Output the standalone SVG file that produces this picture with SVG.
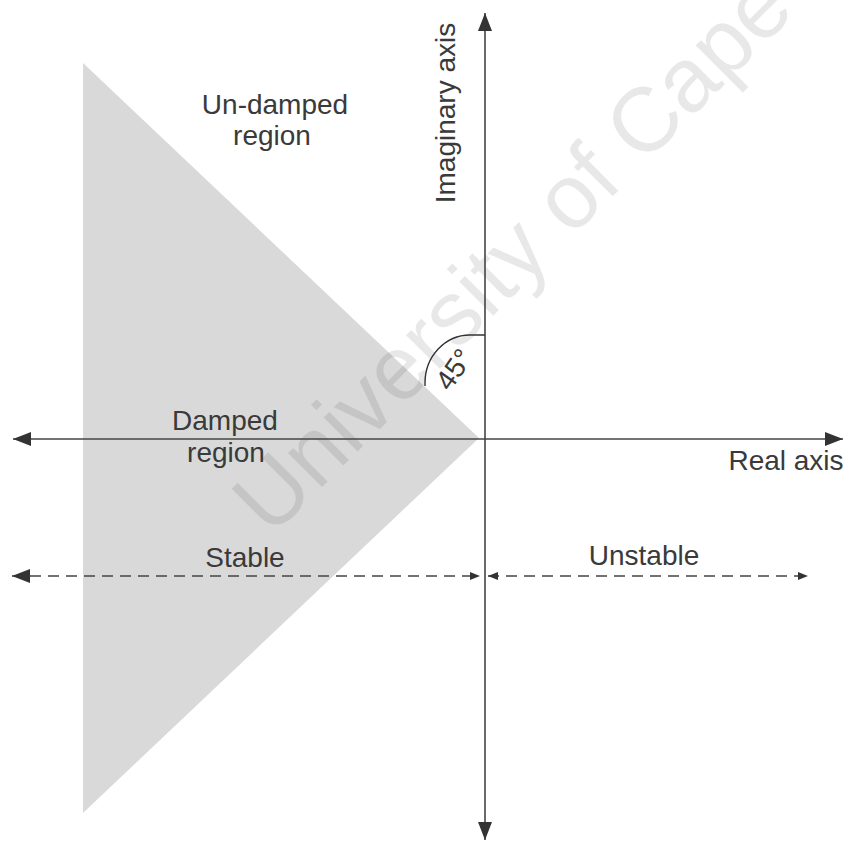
<svg xmlns="http://www.w3.org/2000/svg" width="849" height="846" viewBox="0 0 849 846">
  <style>
    .lbl { font-family: "Liberation Sans", Arial, sans-serif; font-size: 28px; fill: #3a3a3a; }
    .axis { stroke: #444; stroke-width: 1.6; fill: none; }
    .dash { stroke: #444; stroke-width: 1.4; fill: none; stroke-dasharray: 11 7; }
    .wm { font-family: "Liberation Sans", Arial, sans-serif; font-size: 91px; fill: #000; fill-opacity: 0.09; }
  </style>
  <defs>
    <marker id="ah" viewBox="0 0 10 10" refX="10" refY="5" markerWidth="10" markerHeight="10" markerUnits="userSpaceOnUse" orient="auto-start-reverse">
      <path d="M0,1 L10,5 L0,9 Z" fill="#333"/>
    </marker>
    <marker id="ahBig" viewBox="0 0 18 14" refX="18" refY="7" markerWidth="18" markerHeight="14" markerUnits="userSpaceOnUse" orient="auto-start-reverse">
      <path d="M0,0 L18,7 L0,14 Z" fill="#333"/>
    </marker>
  </defs>
  <rect width="849" height="846" fill="#ffffff"/>

  <g id="damped-region">
    <polygon points="83,63 479,438 83,813" fill="#d9d9d9"/>
  </g>

  <g id="watermark">
    <text class="wm" transform="translate(271,538) rotate(-45)">University of Cape</text>
  </g>

  <g id="connectors">
    <line id="real-axis" class="axis" x1="13" y1="439" x2="843" y2="439" marker-start="url(#ahBig)" marker-end="url(#ahBig)"/>
    <line id="imag-axis" class="axis" x1="485" y1="13" x2="485" y2="840" marker-start="url(#ahBig)" marker-end="url(#ahBig)"/>
    <line id="stable-arrow" class="dash" x1="12" y1="576" x2="480" y2="576" marker-start="url(#ahBig)" marker-end="url(#ah)"/>
    <line id="unstable-arrow" class="dash" x1="488" y1="576" x2="808" y2="576" marker-start="url(#ah)" marker-end="url(#ah)"/>
    <path id="angle-arc" d="M485,335 L470,335 A45,48 0 0 0 425,383 L425,386" stroke="#333" stroke-width="1.4" fill="none"/>
  </g>

  <g id="labels">
    <text class="lbl" x="275" y="114" text-anchor="middle">Un-damped</text>
    <text class="lbl" x="272" y="145" text-anchor="middle">region</text>
    <text class="lbl" x="225" y="430" text-anchor="middle">Damped</text>
    <text class="lbl" x="226" y="462" text-anchor="middle">region</text>
    <text class="lbl" x="245" y="567" text-anchor="middle">Stable</text>
    <text class="lbl" x="644" y="565" text-anchor="middle">Unstable</text>
    <text class="lbl" x="786" y="470" text-anchor="middle">Real axis</text>
    <text class="lbl" transform="translate(455,113) rotate(-90)" text-anchor="middle">Imaginary axis</text>
    <text class="lbl" font-size="24" transform="translate(462,375) rotate(-55)" text-anchor="middle">45°</text>
  </g>
</svg>
